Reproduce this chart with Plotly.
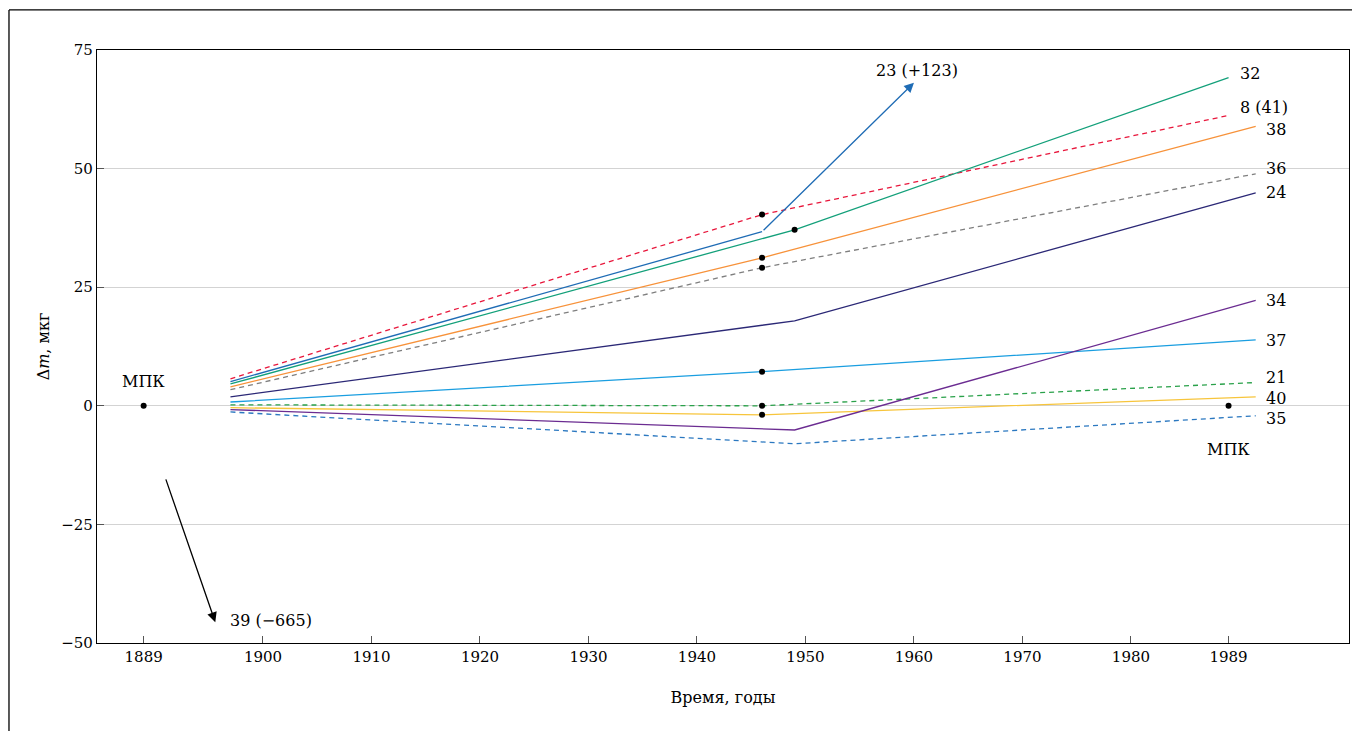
import plotly.graph_objects as go

# ---- data ----
series_names = ["8", "23", "32", "38", "36", "24", "37", "21", "40", "34", "35"]
series_years = {
    "8":  [1897, 1946, 1989],
    "23": [1897, 1946],
    "32": [1897, 1949, 1989],
    "38": [1897, 1946, 1991.5],
    "36": [1897, 1946, 1991.5],
    "24": [1897, 1949, 1991.5],
    "37": [1897, 1946, 1991.5],
    "21": [1897, 1946, 1991.5],
    "40": [1897, 1946, 1991.5],
    "34": [1897, 1949, 1991.5],
    "35": [1897, 1949, 1991.5],
}
series_values = {
    "8":  [5.7, 40.3, 61.2],
    "23": [5.1, 36.7],
    "32": [4.6, 37.1, 69.2],
    "38": [4.0, 31.2, 58.9],
    "36": [3.4, 29.1, 48.9],
    "24": [1.9, 17.9, 44.9],
    "37": [0.8, 7.2, 13.9],
    "21": [0.2, 0.0, 4.9],
    "40": [-0.4, -1.9, 1.9],
    "34": [-0.8, -5.1, 22.2],
    "35": [-1.3, -8.0, -2.1],
}
series_colors = {
    "8": "#e8173c", "23": "#1f6cb5", "32": "#13a07a", "38": "#f7923a",
    "36": "#7f7f7f", "24": "#2b2876", "37": "#1a9ee0", "21": "#2aa14a",
    "40": "#f7c53c", "34": "#6b2c91", "35": "#2b78c0",
}
series_dashed = {"8", "36", "21", "35"}

# measurement points (black dots)
point_years = [1889, 1946, 1949, 1946, 1946, 1946, 1946, 1946, 1989]
point_values = [0, 40.3, 37.1, 31.2, 29.1, 7.2, 0.0, -1.9, 0]

# end labels
end_labels = ["32", "8 (41)", "38", "36", "24", "34", "37", "21", "40", "35"]
end_label_x = [1989.9, 1989.9, 1992.3, 1992.3, 1992.3, 1992.3, 1992.3, 1992.3, 1992.3, 1992.3]
end_label_y = [70.0, 62.9, 58.2, 50.0, 44.9, 22.2, 13.7, 5.9, 1.6, -2.6]

# arrows for out-of-range series
arrow23_from = (1946, 36.7)
arrow23_to = (1960, 68.1)
arrow23_label = "23 (+123)"
arrow39_from = (1891.0, -15.2)
arrow39_to = (1895.6, -45.6)
arrow39_label = "39 (−665)"

x_ticks = [1889, 1900, 1910, 1920, 1930, 1940, 1950, 1960, 1970, 1980, 1989]
y_ticks = [-50, -25, 0, 25, 50, 75]

FONT = "DejaVu Serif"
LBL = 16

fig = go.Figure()
for name in series_names:
    fig.add_trace(go.Scatter(
        x=series_years[name], y=series_values[name], mode="lines",
        line=dict(color=series_colors[name], width=1.3,
                  dash="5px,4px" if name in series_dashed else "solid"),
        showlegend=False, hoverinfo="skip"))

fig.add_trace(go.Scatter(x=point_years, y=point_values, mode="markers",
                         marker=dict(color="black", size=6),
                         showlegend=False, hoverinfo="skip"))

for t, x, y in zip(end_labels, end_label_x, end_label_y):
    fig.add_annotation(x=x, y=y, text=t, showarrow=False, xanchor="left",
                       yanchor="middle", font=dict(family=FONT, size=LBL, color="black"))

fig.add_annotation(x=arrow23_to[0], y=arrow23_to[1], ax=arrow23_from[0], ay=arrow23_from[1],
                   axref="x", ayref="y", xref="x", yref="y", text="", showarrow=True,
                   arrowhead=2, arrowsize=1.5, arrowwidth=1.3, arrowcolor=series_colors["23"])
fig.add_annotation(x=1960.3, y=70.6, text=arrow23_label, showarrow=False,
                   font=dict(family=FONT, size=LBL, color="black"))
fig.add_annotation(x=arrow39_to[0], y=arrow39_to[1], ax=arrow39_from[0], ay=arrow39_from[1],
                   axref="x", ayref="y", xref="x", yref="y", text="", showarrow=True,
                   arrowhead=2, arrowsize=1.5, arrowwidth=1.3, arrowcolor="black")
fig.add_annotation(x=1896.8, y=-45.3, text=arrow39_label, showarrow=False, xanchor="left",
                   font=dict(family=FONT, size=LBL, color="black"))

fig.add_annotation(x=1889, y=5.1, text="МПК", showarrow=False,
                   font=dict(family=FONT, size=LBL, color="black"))
fig.add_annotation(x=1989, y=-9.3, text="МПК", showarrow=False,
                   font=dict(family=FONT, size=LBL, color="black"))

# outer frame
fig.add_shape(type="line", xref="paper", yref="paper", x0=-0.0703, x1=-0.0703,
              y0=1.0675, y1=-0.2, line=dict(color="black", width=1.3))
fig.add_shape(type="line", xref="paper", yref="paper", x0=-0.0703, x1=1.05,
              y0=1.0675, y1=1.0675, line=dict(color="black", width=1.3))

fig.update_xaxes(range=[1884.7, 2000.1], tickvals=x_ticks, ticks="inside", ticklen=7,
                 tickcolor="#555", showgrid=False, zeroline=False, showline=True,
                 linecolor="black", linewidth=1.3, mirror=True,
                 tickfont=dict(family=FONT, size=15, color="black"),
                 title=dict(text="Время, годы", font=dict(family=FONT, size=LBL, color="black"),
                            standoff=26))
fig.update_yaxes(range=[-50, 75], tickvals=y_ticks, ticks="inside", ticklen=7,
                 tickcolor="#555", showgrid=True, gridcolor="#d3d3d3", gridwidth=1,
                 zeroline=False, showline=True, linecolor="black", linewidth=1.3, mirror=True,
                 tickfont=dict(family=FONT, size=15, color="black"),
                 title=dict(text="Δ<i>m</i>, мкг", font=dict(family=FONT, size=LBL, color="black"),
                            standoff=7))

fig.update_layout(width=1360, height=731, plot_bgcolor="white", paper_bgcolor="white",
                  margin=dict(l=89, r=19, t=42, b=96))
fig.write_html("out.html")
